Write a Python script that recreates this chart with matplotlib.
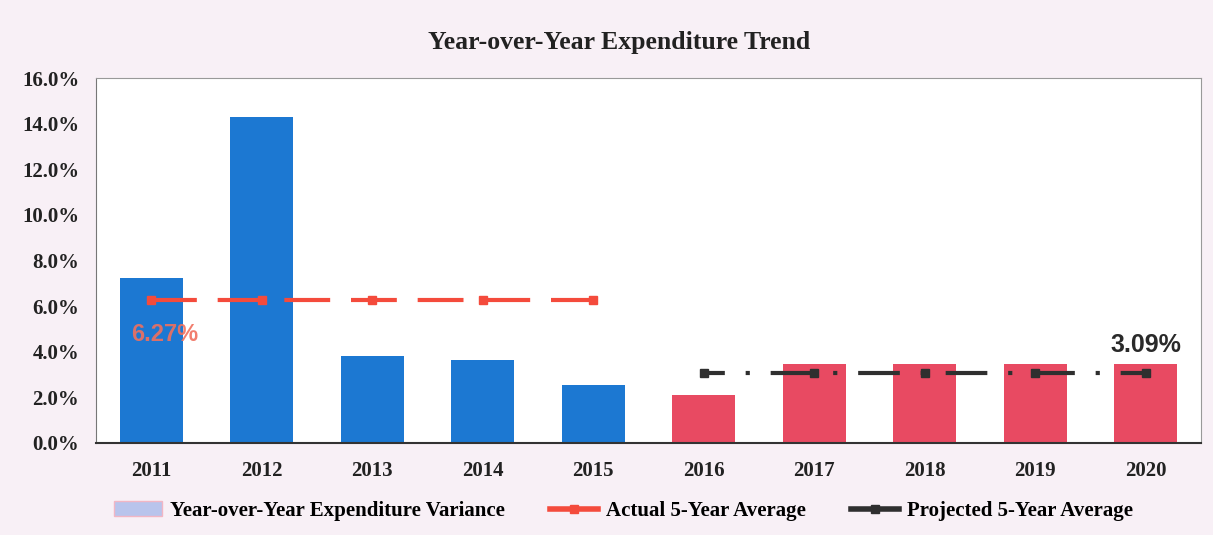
import numpy as np
import matplotlib.pyplot as plt
from matplotlib.patches import Patch
from matplotlib.lines import Line2D
from matplotlib.ticker import FuncFormatter

years = ["2011", "2012", "2013", "2014", "2015", "2016", "2017", "2018", "2019", "2020"]
variance = [7.25, 14.3, 3.8, 3.65, 2.55, 2.1, 3.45, 3.45, 3.45, 3.45]
actual_avg = 6.27
projected_avg = 3.09
actual_years = years[:5]
projected_years = years[5:]

plt.rcParams['font.family'] = ['Liberation Serif', 'DejaVu Serif']
plt.rcParams['font.weight'] = 'bold'

bg = "#f8f0f6"
blue = "#1c78d2"
red = "#e84a62"

fig = plt.figure(figsize=(12.13, 5.35), dpi=100, facecolor=bg)
ax = fig.add_axes([0.079, 0.172, 0.911, 0.682])

x = np.arange(len(years))
colors = [blue] * 5 + [red] * 5
ax.bar(x, variance, width=0.57, color=colors, zorder=2)

# 5-year averages drawn across their own year ranges
xa = x[:5]
ax.plot(xa, [actual_avg] * len(actual_years), color="#f44b3c", linestyle=(0, (11, 5)),
        linewidth=3, marker="s", markersize=6, zorder=3)
xp = x[5:]
ax.plot(xp, [projected_avg] * len(projected_years), color="#2f2f2f", linestyle=(0, (5, 5, 1, 5, 5, 0)),
        linewidth=3, marker="s", markersize=6, zorder=3)

ax.text(0.12, actual_avg - 1.5, f"{actual_avg:.2f}%", color="#f0705e", fontsize=17,
        ha="center", va="center", alpha=0.9, family=["Liberation Sans", "DejaVu Sans"])
ax.text(9.0, projected_avg + 1.2, f"{projected_avg:.2f}%", color="#2a2a2a", fontsize=18,
        ha="center", va="center", family=["Liberation Sans", "DejaVu Sans"])

ax.set_xlim(-0.5, 9.5)
ax.set_ylim(0, 16)
ax.set_yticks(np.arange(0, 16.1, 2))
ax.yaxis.set_major_formatter(FuncFormatter(lambda v, p: f"{v:.1f}%"))
ax.set_xticks(x)
ax.set_xticklabels(years)
ax.tick_params(axis="both", length=0, labelsize=15, colors="#222222")
ax.tick_params(axis="x", pad=13)
ax.tick_params(axis="y", pad=12)

ax.spines["left"].set_color("#777777")
ax.spines["bottom"].set_color("#333333")
ax.spines["bottom"].set_linewidth(1.5)
ax.spines["top"].set_color("#999999")
ax.spines["right"].set_color("#999999")

fig.text(0.51, 0.92, "Year-over-Year Expenditure Trend", ha="center", va="center",
         fontsize=18.5, color="#222222")

handles = [
    Patch(facecolor="#b9c4ec", edgecolor="#f2b6c4", label="Year-over-Year Expenditure Variance"),
    Line2D([], [], color="#f44b3c", linewidth=4, marker="s", markersize=6, label="Actual 5-Year Average"),
    Line2D([], [], color="#2f2f2f", linewidth=4, marker="s", markersize=6, label="Projected 5-Year Average"),
]
fig.legend(handles=handles, loc="center", bbox_to_anchor=(0.514, 0.045), ncol=3, frameon=False,
           fontsize=15, handlelength=2.3, columnspacing=2.2, handletextpad=0.35)

plt.savefig("out.png", dpi=100, facecolor=bg)
